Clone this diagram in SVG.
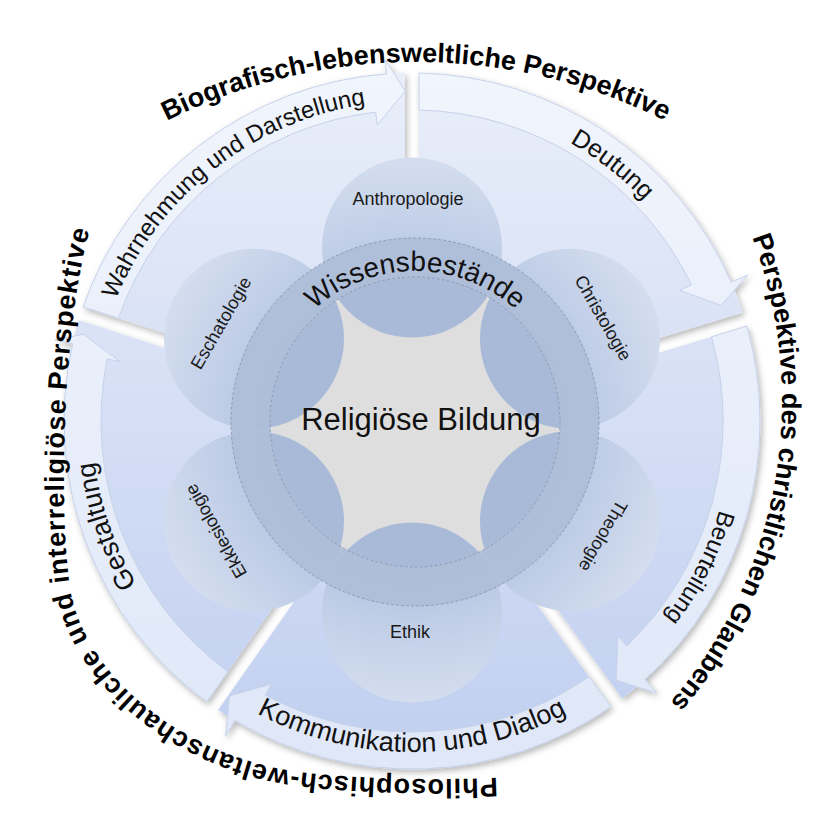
<svg xmlns="http://www.w3.org/2000/svg" width="817" height="823" viewBox="0 0 817 823">
<defs>
<style>
.cap{font-family:"Liberation Sans",Arial,sans-serif;font-weight:bold;font-size:27px;fill:#000}
.lbl{font-family:"Liberation Sans",Arial,sans-serif;fill:#111}
.pt{font-family:"Liberation Sans",Arial,sans-serif;font-size:18px;fill:#1a1a1a;text-anchor:middle}
.body{fill:url(#gBody)}
.strip{fill:url(#gStrip);stroke:#c6d2ea;stroke-width:1}
.petal{fill:url(#gPetal)}
.inpetal{fill:#a8bad8}
</style>
<linearGradient id="gBody" gradientUnits="userSpaceOnUse" x1="0" y1="70" x2="0" y2="720"><stop offset="0" stop-color="#e9eef9"/><stop offset="1" stop-color="#c3d1f1"/></linearGradient>
<linearGradient id="gStrip" gradientUnits="userSpaceOnUse" x1="0" y1="60" x2="0" y2="770"><stop offset="0" stop-color="#f1f5fc"/><stop offset="1" stop-color="#dfe7f8"/></linearGradient>
<radialGradient id="gPetal" gradientUnits="userSpaceOnUse" cx="412" cy="430" r="275"><stop offset="0.55" stop-color="#b5c5e2"/><stop offset="1" stop-color="#d4deef"/></radialGradient>
<filter id="sh" x="-10%" y="-10%" width="130%" height="130%"><feDropShadow dx="2" dy="3" stdDeviation="3" flood-color="#000" flood-opacity="0.28"/></filter>
<clipPath id="inner"><circle cx="415" cy="422" r="145"/></clipPath>
<path id="tpW" d="M 109.4 316.8 A 320 320 0 0 1 384.1 102.2"/>
<path id="tpD" d="M 552.3 133.4 A 320 320 0 0 1 657.1 215.3"/>
<path id="tpB" d="M 723.8 493.0 A 320 320 0 0 1 653.5 630.9"/>
<path id="tpK" d="M 236.6 701.7 A 331 331 0 0 0 587.4 701.7"/>
<path id="tpG" d="M 146.7 599.9 A 320 320 0 0 1 92.8 443.3"/>
<path id="tpWiss" d="M 306.4 317.1 A 151 151 0 0 1 523.6 317.1"/>
<path id="tpTop" d="M 146.0 131.8 A 557 557 0 0 1 686.0 131.8"/>
<path id="tpRight" d="M 745.3 220.5 A 462 462 0 0 1 657.9 716.1"/>
<path id="tpBL" d="M 600 768 C 520 782 380 782 300 772 C 200 760 92 690 71 594 C 58 520 62 320 91 226 L 125 160"/>
</defs>
<rect width="817" height="823" fill="#fff"/>

<g id="connectors">
 <g id="arrow-wahrnehmung">
  <g filter="url(#sh)">
   <path class="body" d="M 271.5 368.0 L 83.2 306.8 A 348 348 0 0 1 405 73 L 405 271 A 150 150 0 0 0 271.5 368.0 Z"/>
   <path class="strip" d="M 118.4 318.2 L 83.2 306.8 A 348 348 0 0 1 386.5 73.9 L 385.5 60.0 L 405.1 91.1 L 377.2 125.0 L 375.7 112.1 A 311 311 0 0 0 118.4 318.2 Z"/>
  </g>
  <text class="lbl" font-size="24" text-anchor="middle"><textPath href="#tpW" startOffset="50%">Wahrnehmung und Darstellung</textPath></text>
 </g>
 <g id="arrow-deutung">
  <g filter="url(#sh)">
   <path class="body" d="M 419 271 L 419 73 A 348 348 0 0 1 742.7 312.6 L 553.4 370.5 A 150 150 0 0 0 419 271 Z"/>
   <path class="strip" d="M 419 110 L 419 73 A 348 348 0 0 1 731.1 282.2 L 747.6 275.1 L 721.1 305.4 L 679.8 290.4 L 691.5 284.7 A 311 311 0 0 0 419 110 Z"/>
  </g>
  <text class="lbl" font-size="25" text-anchor="middle"><textPath href="#tpD" startOffset="50%">Deutung</textPath></text>
 </g>
 <g id="arrow-beurteilung">
  <g filter="url(#sh)">
   <path class="body" d="M 557.5 383.8 L 746.8 326.0 A 348 348 0 0 1 622.2 698.4 L 505.8 538.2 A 150 150 0 0 0 557.5 383.8 Z"/>
   <path class="strip" d="M 711.5 336.8 L 746.8 326.0 A 348 348 0 0 1 644.9 679.6 L 656.9 693.0 L 616.1 680.3 L 617.9 636.4 L 626.9 645.8 A 311 311 0 0 0 711.5 336.8 Z"/>
  </g>
  <text class="lbl" font-size="24" text-anchor="middle"><textPath href="#tpB" startOffset="50%">Beurteilung</textPath></text>
 </g>
 <g id="arrow-kommunikation">
  <g filter="url(#sh)">
   <path class="body" d="M 494.5 546.5 L 610.9 706.7 A 348 348 0 0 1 218.1 710.1 L 331.7 547.9 A 150 150 0 0 0 494.5 546.5 Z"/>
   <path class="strip" d="M 589.1 676.7 L 610.9 706.7 A 348 348 0 0 1 234.9 720.5 L 225.7 736.0 L 229.4 695.9 L 271.6 683.9 L 265.5 695.3 A 311 311 0 0 0 589.1 676.7 Z"/>
  </g>
  <text class="lbl" font-size="27" text-anchor="middle"><textPath href="#tpK" startOffset="50%">Kommunikation und Dialog</textPath></text>
 </g>
 <g id="arrow-gestaltung">
  <g filter="url(#sh)">
   <path class="body" d="M 320.2 539.9 L 206.7 702.0 A 348 348 0 0 1 78.9 320.1 L 267.2 381.3 A 150 150 0 0 0 320.2 539.9 Z"/>
   <path class="strip" d="M 227.9 671.7 L 206.7 702.0 A 348 348 0 0 1 72.7 343.9 L 55.1 339.9 L 83.3 334.2 L 120.0 361.6 L 107.2 359.0 A 311 311 0 0 0 227.9 671.7 Z"/>
  </g>
  <text class="lbl" font-size="27" text-anchor="middle"><textPath href="#tpG" startOffset="50%">Gestaltung</textPath></text>
 </g>
</g>

<g id="petals">
 <g id="node-anthropologie"><circle class="petal" cx="412" cy="247.5" r="90"/><text class="pt" x="408" y="205">Anthropologie</text></g>
 <g id="node-christologie"><circle class="petal" cx="570" cy="338.8" r="90"/><text class="pt" transform="translate(603 318) rotate(60)" x="0" y="6">Christologie</text></g>
 <g id="node-theologie"><circle class="petal" cx="570" cy="521.2" r="90"/><text class="pt" transform="translate(603 536) rotate(120)" x="0" y="6">Theologie</text></g>
 <g id="node-ethik"><circle class="petal" cx="412" cy="612.5" r="90"/><text class="pt" x="410" y="638">Ethik</text></g>
 <g id="node-ekklesiologie"><circle class="petal" cx="254" cy="521.2" r="90"/><text class="pt" transform="translate(216 531) rotate(240)" x="0" y="6">Ekklesiologie</text></g>
 <g id="node-eschatologie"><circle class="petal" cx="254" cy="338.8" r="90"/><text class="pt" transform="translate(221 323) rotate(300)" x="0" y="6">Eschatologie</text></g>
</g>

<g id="node-center">
 <circle cx="415" cy="422" r="145" fill="#dedede"/>
 <g clip-path="url(#inner)">
  <circle class="inpetal" cx="412" cy="247.5" r="90"/>
  <circle class="inpetal" cx="570" cy="338.8" r="90"/>
  <circle class="inpetal" cx="570" cy="521.2" r="90"/>
  <circle class="inpetal" cx="412" cy="612.5" r="90"/>
  <circle class="inpetal" cx="254" cy="521.2" r="90"/>
  <circle class="inpetal" cx="254" cy="338.8" r="90"/>
 </g>
 <text class="lbl" x="421" y="430" font-size="31" text-anchor="middle">Religiöse Bildung</text>
</g>

<g id="node-ring">
 <path fill="#aebed8" fill-opacity="0.95" fill-rule="evenodd" d="M 231 422 A 184 184 0 1 0 599 422 A 184 184 0 1 0 231 422 Z M 270 422 A 145 145 0 1 0 560 422 A 145 145 0 1 0 270 422 Z"/>
 <circle cx="415" cy="422" r="184" fill="none" stroke="#8d9cb6" stroke-width="1" stroke-dasharray="3 2"/>
 <circle cx="415" cy="422" r="145" fill="none" stroke="#8d9cb6" stroke-width="1" stroke-dasharray="3 2"/>
 <text class="lbl" font-size="28" text-anchor="middle"><textPath href="#tpWiss" startOffset="50%">Wissensbestände</textPath></text>
</g>

<g id="captions">
 <text class="cap" text-anchor="middle"><textPath href="#tpTop" startOffset="50%">Biografisch-lebensweltliche Perspektive</textPath></text>
 <text class="cap" text-anchor="middle"><textPath href="#tpRight" startOffset="50%">Perspektive des christlichen Glaubens</textPath></text>
 <text class="cap" font-size="28.5"><textPath href="#tpBL" startOffset="103" textLength="871" lengthAdjust="spacing">Philosophisch-weltanschauliche und interreligiöse Perspektive</textPath></text>
</g>
</svg>
